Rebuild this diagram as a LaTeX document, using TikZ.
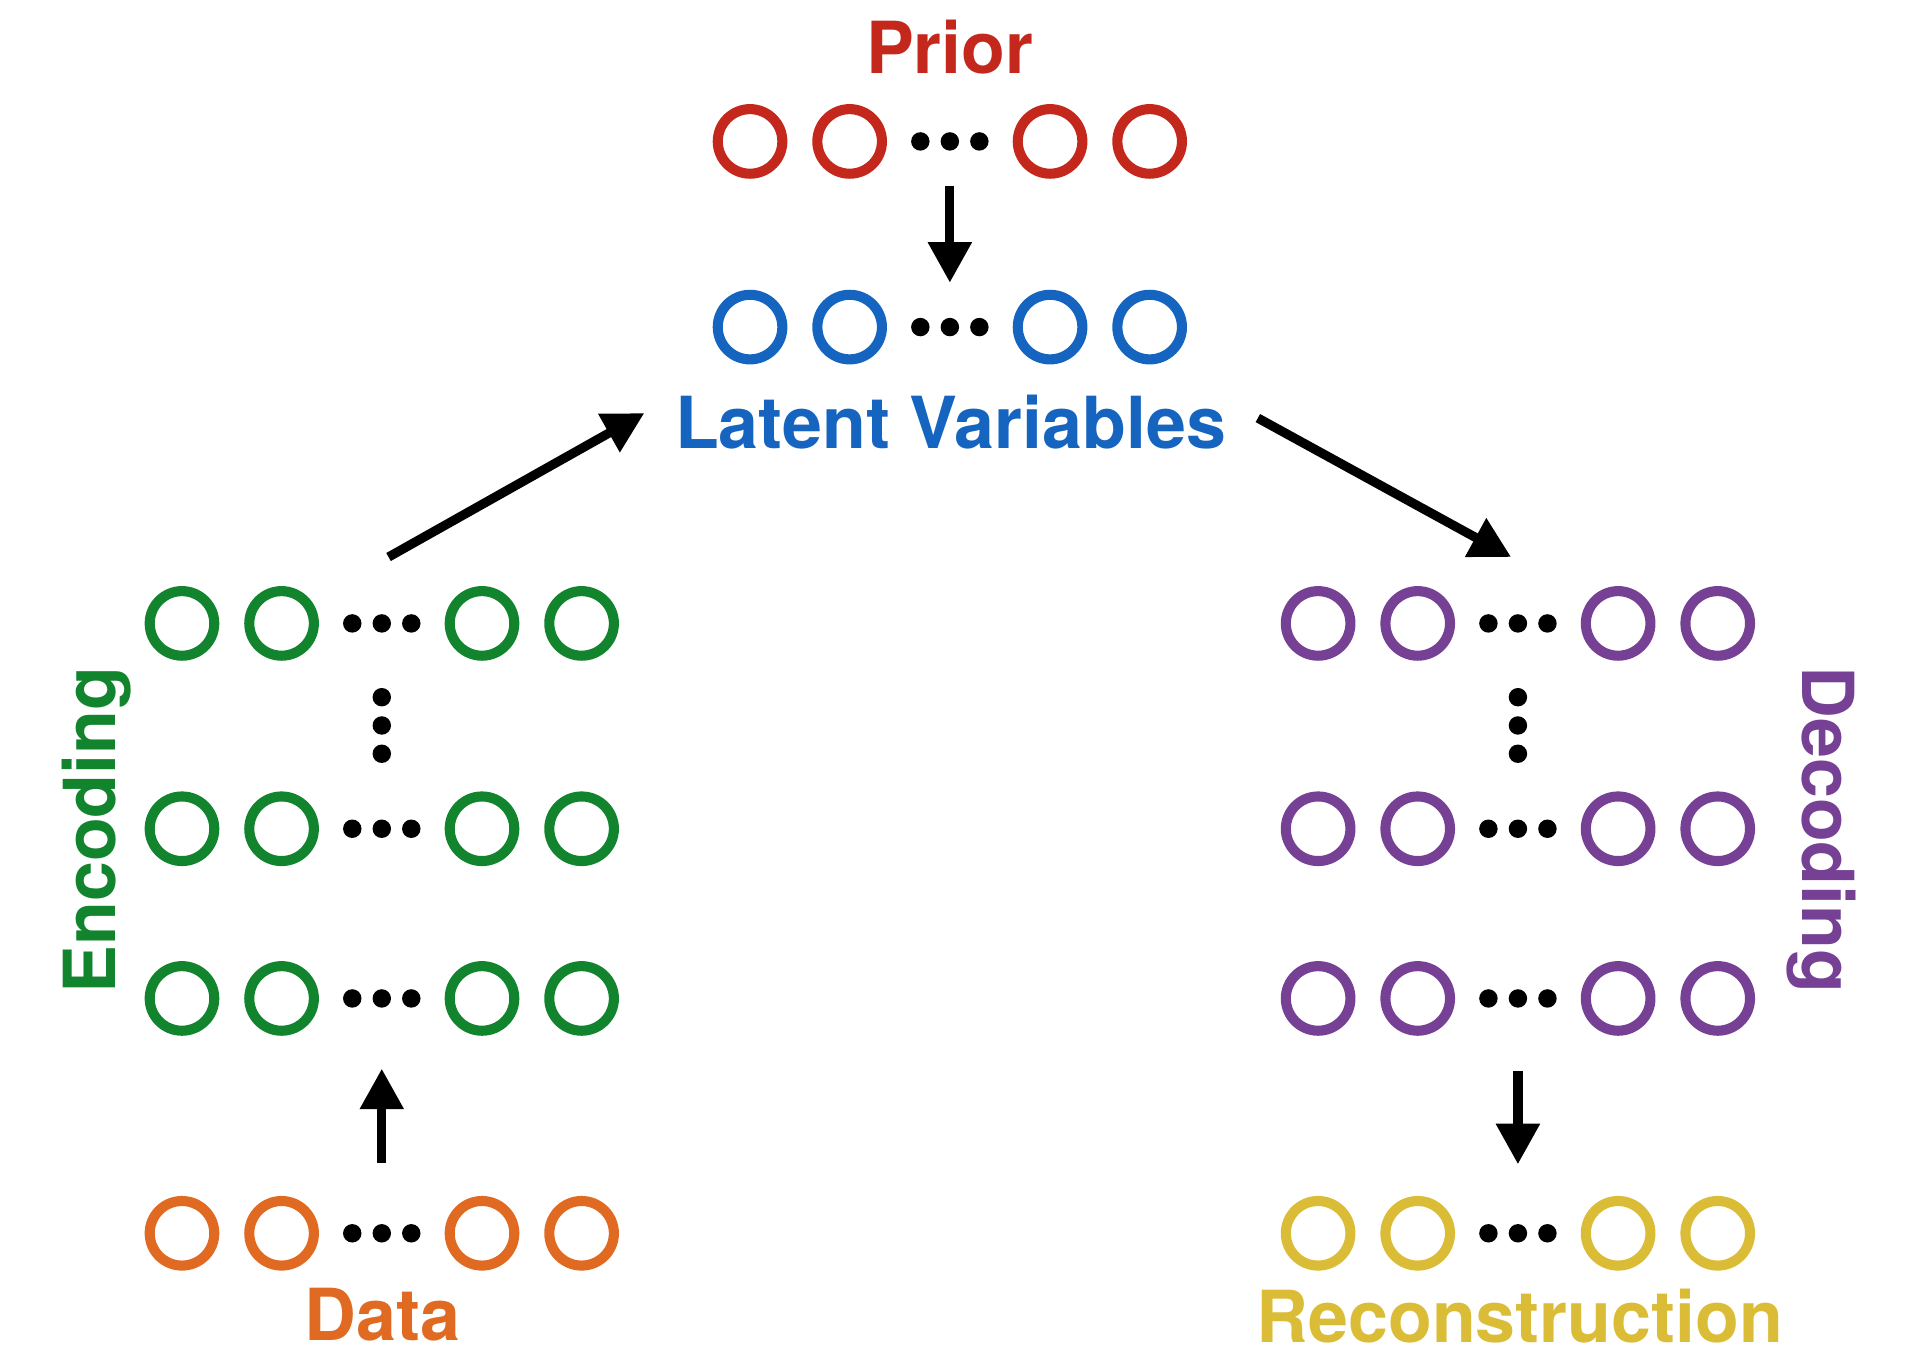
\documentclass[tikz,border=0pt]{standalone}
\usepackage{fontspec}
\setsansfont{TeX Gyre Heros}
\usetikzlibrary{positioning,arrows.meta,fit}

\definecolor{priorred}{HTML}{C4281C}
\definecolor{latentblue}{HTML}{1565C0}
\definecolor{encgreen}{HTML}{12842E}
\definecolor{dataorange}{HTML}{E06A22}
\definecolor{decpurple}{HTML}{764195}
\definecolor{reconyellow}{HTML}{DBBC37}

% one layer: four units and the dots, fitted into node #1
\newcommand{\nnrow}[4]{%
	\node[neuron=#2] (#1a) at (#3-162.5,#4) {};
	\node[neuron=#2] (#1b) at (#3-81.5,#4) {};
	\foreach \d in {1,2,3}
		\node[dot] (#1dot\d) at (#3+24*\d-48,#4) {};
	\node[neuron=#2] (#1c) at (#3+81.5,#4) {};
	\node[neuron=#2] (#1d) at (#3+162.5,#4) {};
	\node[fit=(#1a)(#1d),layer] (#1) {};
}

\begin{document}
\begin{tikzpicture} [
					x=0.01cm,y=-0.01cm,
					neuron/.style={circle,draw=#1,line width=0.82mm,inner sep=0,minimum size=5.25mm},
					dot/.style={circle,fill=black,inner sep=0,minimum size=1.5mm},
					layer/.style={inner sep=0.5mm},
					lbl/.style={font=\sffamily\bfseries\fontsize{16.6}{20}\selectfont,text=#1,anchor=base},
					flow/.style={-{Triangle[width=3.4mm,length=3.3mm]},line width=0.75mm},
				]
				\useasboundingbox (0,0) rectangle (1568,1111);
				
				% prior and latent variables
				\node[lbl=priorred] (priorlbl) at (772.5,60) {Prior};
				\nnrow{prior}{priorred}{772.5}{115}
				\nnrow{latent}{latentblue}{772.5}{266}
				\node[lbl=latentblue] (latentlbl) at (773,365) {Latent Variables};
				
				% encoder
				\nnrow{encA}{encgreen}{310.5}{507}
				\foreach \d/\y in {1/567,2/590,3/613}
					\node[dot] (encv\d) at (310.5,\y) {};
				\nnrow{encB}{encgreen}{310.5}{674}
				\nnrow{encC}{encgreen}{310.5}{812}
				\nnrow{data}{dataorange}{310.5}{1003}
				\node[lbl=dataorange] (datalbl) at (311,1090) {Data};
				\node[lbl=encgreen,rotate=90] (enclbl) at (94,675) {Encoding};
				
				% decoder
				\nnrow{decA}{decpurple}{1234.5}{507}
				\foreach \d/\y in {1/567,2/590,3/613}
					\node[dot] (decv\d) at (1234.5,\y) {};
				\nnrow{decB}{decpurple}{1234.5}{674}
				\nnrow{decC}{decpurple}{1234.5}{812}
				\nnrow{recon}{reconyellow}{1234.5}{1003}
				\node[lbl=reconyellow] (reconlbl) at (1236,1092) {Reconstruction};
				\node[lbl=decpurple,rotate=-90] (declbl) at (1466,675) {Decoding};
				
				\coordinate (encout) at (316,453);
				\coordinate (latin) at (524,336);
				\coordinate (latout) at (1023,340);
				\coordinate (decin) at (1229,453);
				
				\draw[flow] (prior) -- (latent);
				\draw[flow,shorten <=2.1mm,shorten >=2.1mm] (data) -- (encC);
				\draw[flow] (encout) -- (latin);
				\draw[flow] (latout) -- (decin);
				\draw[flow,shorten <=2.3mm,shorten >=2mm] (decC) -- (recon);
				
			\end{tikzpicture}
\end{document}
